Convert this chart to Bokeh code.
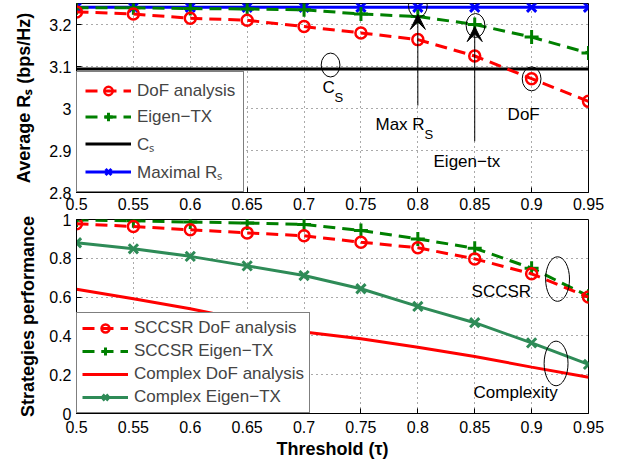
import numpy as np
from bokeh.plotting import figure
from bokeh.layouts import column
from bokeh.models import (Range1d, FixedTicker, Legend, LegendItem, Label, Arrow,
                          VeeHead)
from bokeh.embed import file_html
from bokeh.resources import INLINE

# ---------------- data ----------------
threshold = [0.5, 0.55, 0.6, 0.65, 0.7, 0.75, 0.8, 0.85, 0.9, 0.95]
x_tick_labels = ["0.5", "0.55", "0.6", "0.65", "0.7", "0.75", "0.8", "0.85", "0.9", "0.95"]

rs_dof = [3.230, 3.225, 3.215, 3.210, 3.195, 3.180, 3.164, 3.125, 3.071, 3.017]
rs_eigen = [3.240, 3.240, 3.238, 3.237, 3.235, 3.225, 3.219, 3.200, 3.170, 3.132]
rs_cs = [3.094, 3.094, 3.094, 3.094, 3.094, 3.094, 3.094, 3.094, 3.094, 3.094]
rs_max = [3.241, 3.241, 3.241, 3.241, 3.241, 3.241, 3.241, 3.241, 3.241, 3.241]

sccsr_dof = [0.978, 0.964, 0.947, 0.931, 0.916, 0.883, 0.854, 0.797, 0.720, 0.600]
sccsr_eigen = [0.998, 0.993, 0.987, 0.982, 0.974, 0.943, 0.900, 0.852, 0.749, 0.605]
complex_dof = [0.641, 0.592, 0.540, 0.480, 0.420, 0.385, 0.342, 0.294, 0.239, 0.187]
complex_eigen = [0.880, 0.849, 0.810, 0.761, 0.711, 0.643, 0.552, 0.468, 0.364, 0.253]

top_y_ticks = [2.8, 2.9, 3.0, 3.1, 3.2]
top_y_labels = ["2.8", "2.9", "3", "3.1", "3.2"]
bot_y_ticks = [0.0, 0.2, 0.4, 0.6, 0.8, 1.0]
bot_y_labels = ["0", "0.2", "0.4", "0.6", "0.8", "1"]

FONT = "Liberation Sans"
RED = "#ff0000"
GREEN = "#008000"
BLUE = "#0000ff"
SEAGREEN = "#2e8b57"


def style(p, yticks, ylabels, ylabel, ylab_standoff):
    p.outline_line_color = "black"
    p.outline_line_width = 1
    p.background_fill_color = "white"
    p.xaxis.ticker = FixedTicker(ticks=threshold)
    p.xaxis.major_label_overrides = {t: l for t, l in zip(threshold, x_tick_labels)}
    p.yaxis.ticker = FixedTicker(ticks=yticks)
    p.yaxis.major_label_overrides = {t: l for t, l in zip(yticks, ylabels)}
    for ax in p.xaxis + p.yaxis:
        ax.major_tick_in = 5
        ax.major_tick_out = 0
        ax.minor_tick_line_color = None
        ax.axis_line_color = "black"
        ax.major_tick_line_color = "black"
        ax.major_label_text_font = FONT
        ax.major_label_text_font_size = "16px"
        ax.major_label_text_color = "black"
        ax.axis_label_text_font = FONT
        ax.axis_label_text_font_size = "18px"
        ax.axis_label_text_font_style = "bold"
        ax.axis_label_text_color = "black"
    p.yaxis.major_label_standoff = 5
    p.xaxis.major_label_standoff = 5
    p.yaxis.axis_label = ylabel
    p.yaxis.axis_label_standoff = ylab_standoff
    p.xgrid.ticker = FixedTicker(ticks=threshold)
    p.ygrid.ticker = FixedTicker(ticks=yticks)
    for g in (p.xgrid, p.ygrid):
        g.grid_line_color = "#555555"
        g.grid_line_dash = "1 4"
        g.grid_line_width = 1


# ---------------- top figure ----------------
p1 = figure(width=623, height=216, output_backend="svg", toolbar_location=None,
            x_range=Range1d(0.5, 0.95), y_range=Range1d(2.8, 3.25),
            min_border_left=76, min_border_right=35, min_border_top=3, min_border_bottom=24)
style(p1, top_y_ticks, top_y_labels, "Average R\u209b (bps/Hz)", 12)
p1.border_fill_color = "white"

r_cs = p1.line(threshold, rs_cs, line_color="black", line_width=3)
r_max_l = p1.line(threshold, rs_max, line_color=BLUE, line_width=3)
r_max_m = p1.scatter(threshold, rs_max, marker="x", size=13, line_color=BLUE, line_width=3)
r_eig_l = p1.line(threshold, rs_eigen, line_color=GREEN, line_width=3, line_dash="12 7")
r_eig_m = p1.scatter(threshold, rs_eigen, marker="cross", size=14, line_color=GREEN, line_width=3)
r_dof_l = p1.line(threshold, rs_dof, line_color=RED, line_width=3, line_dash="12 7")
r_dof_m = p1.scatter(threshold, rs_dof, marker="circle", size=11, line_color=RED,
                     line_width=2.5, fill_color=None)

# annotations: ellipses
ell_x = [0.7233, 0.800, 0.8507, 0.900]
ell_y = [3.1035, 3.245, 3.1976, 3.0706]
p1.ellipse(x=ell_x, y=ell_y, width=0.0165, height=0.057, fill_color=None,
           line_color="black", line_width=1)
# arrows
p1.add_layout(Arrow(end=VeeHead(size=15, fill_color="black", line_color="black"),
                    x_start=0.8, y_start=3.007, x_end=0.8, y_end=3.224,
                    line_color="black", line_width=1))
p1.add_layout(Arrow(end=VeeHead(size=15, fill_color="black", line_color="black"),
                    x_start=0.85, y_start=2.922, x_end=0.85, y_end=3.195,
                    line_color="black", line_width=1))


def lab(p, x, y, text, size="17px", xo=0, yo=0):
    p.add_layout(Label(x=x, y=y, text=text, text_font=FONT, text_font_size=size,
                       text_baseline="middle", text_align="left", text_color="black",
                       x_offset=xo, y_offset=yo))


lab(p1, 0.7162, 3.049, "C")
lab(p1, 0.7162, 3.049, "S", size="13px", xo=12, yo=-10)
lab(p1, 0.7628, 2.962, "Max R")
lab(p1, 0.7628, 2.962, "S", size="13px", xo=49, yo=-10)
lab(p1, 0.8789, 2.986, "DoF")
lab(p1, 0.8138, 2.873, "Eigen\u2212tx")

leg1 = Legend(items=[
    LegendItem(label="DoF analysis", renderers=[r_dof_l, r_dof_m]),
    LegendItem(label="Eigen\u2212TX", renderers=[r_eig_l, r_eig_m]),
    LegendItem(label="C\u209b", renderers=[r_cs]),
    LegendItem(label="Maximal R\u209b", renderers=[r_max_l, r_max_m]),
], location="bottom_left", margin=0, padding=8, spacing=5, label_height=21,
    glyph_height=21, glyph_width=46, label_standoff=6,
    label_text_font=FONT, label_text_font_size="17px",
    border_line_color="black", border_line_width=1.5, background_fill_alpha=1)
p1.add_layout(leg1)

# ---------------- bottom figure (overlaps top figure's empty border) ----------------
p2 = figure(width=623, height=259, output_backend="svg", toolbar_location=None,
            x_range=Range1d(0.5, 0.95), y_range=Range1d(0, 1),
            min_border_left=76, min_border_right=35, min_border_top=17, min_border_bottom=47,
            margin=(-14, 0, 0, 0))
style(p2, bot_y_ticks, bot_y_labels, "Strategies performance", 8)
p2.border_fill_color = None
p2.border_fill_alpha = 0
p2.xaxis.axis_label = "Threshold (\u03c4)"
p2.xaxis.major_label_standoff = 7
p2.xaxis.axis_label_standoff = 3

c_dof = p2.line(threshold, complex_dof, line_color=RED, line_width=3)
c_eig_l = p2.line(threshold, complex_eigen, line_color=SEAGREEN, line_width=3)
c_eig_m = p2.scatter(threshold, complex_eigen, marker="x", size=13, line_color=SEAGREEN, line_width=3)
s_eig_l = p2.line(threshold, sccsr_eigen, line_color=GREEN, line_width=3, line_dash="12 7")
s_eig_m = p2.scatter(threshold, sccsr_eigen, marker="cross", size=14, line_color=GREEN, line_width=3)
s_dof_l = p2.line(threshold, sccsr_dof, line_color=RED, line_width=3, line_dash="12 7")
s_dof_m = p2.scatter(threshold, sccsr_dof, marker="circle", size=11, line_color=RED,
                     line_width=2.5, fill_color=None)

p2.ellipse(x=[0.9228, 0.9215], y=[0.693, 0.258], width=0.021, height=0.23,
           fill_color=None, line_color="black", line_width=1)
lab(p2, 0.8472, 0.629, "SCCSR")
lab(p2, 0.849, 0.108, "Complexity")

leg2 = Legend(items=[
    LegendItem(label="SCCSR DoF analysis", renderers=[s_dof_l, s_dof_m]),
    LegendItem(label="SCCSR Eigen\u2212TX", renderers=[s_eig_l, s_eig_m]),
    LegendItem(label="Complex DoF analysis", renderers=[c_dof]),
    LegendItem(label="Complex Eigen\u2212TX", renderers=[c_eig_l, c_eig_m]),
], location="bottom_left", margin=0, padding=5, spacing=3, label_height=20,
    glyph_height=20, glyph_width=46, label_standoff=6,
    label_text_font=FONT, label_text_font_size="17px",
    border_line_color="black", border_line_width=1.5, background_fill_alpha=1)
p2.add_layout(leg2)

layout = column(p1, p2, spacing=0)

with open("out.html", "w") as f:
    f.write(file_html(layout, INLINE))
